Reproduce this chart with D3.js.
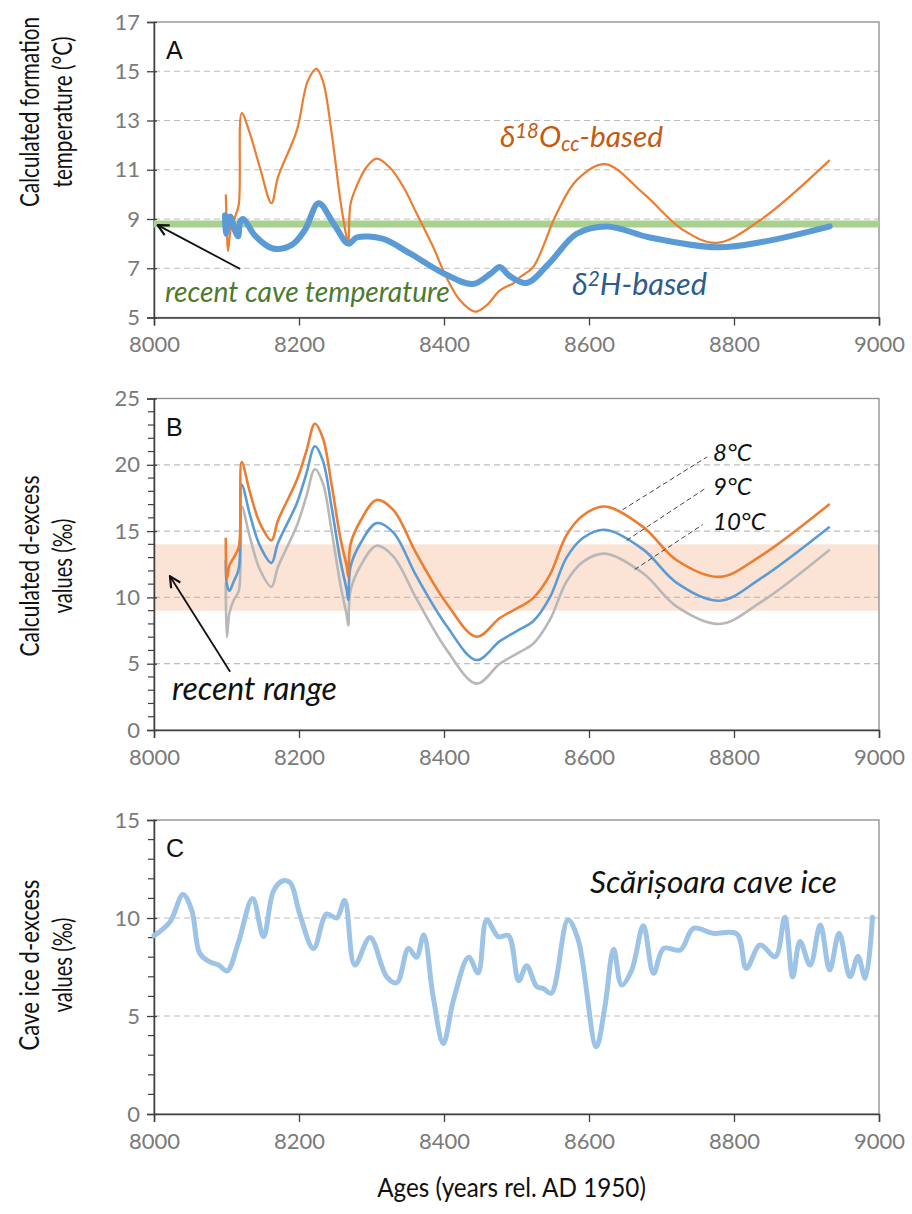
<!DOCTYPE html>
<html><head><meta charset="utf-8">
<script src="https://cdn.jsdelivr.net/npm/d3@7"></script>
<style>body{margin:0;background:#fff}</style></head>
<body>
<svg id="chart" width="912" height="1214"></svg>
<script>
// ---------- data ----------
const ageTicks = [8000, 8200, 8400, 8600, 8800, 9000];
const tempTicks = [5, 7, 9, 11, 13, 15, 17];
const dexTicks = [0, 5, 10, 15, 20, 25];
const iceTicks = [0, 5, 10, 15];
const recentCaveTemp = 8.8;
const recentRange = [9, 14];

// Panel A: delta18O-based temperature
const d18OAge  = [8099,8100.5,8102,8106,8112,8117,8121,8132,8146,8162,8171,8197,8212,8224,8233,8245,8257,8266,8268,8271,8279,8293,8307,8325,8344,8362,8385,8403,8422,8443,8459,8477,8496,8505,8523,8555,8583,8622,8675,8730,8776,8836,8932];
const d18OTemp = [10.0,8.6,7.7,8.6,9.1,9.6,13.3,12.5,11.1,9.64,10.7,12.6,14.6,15.1,14.6,12.5,9.77,8.2,7.95,9.6,10.3,11.1,11.45,11.1,10.3,9.24,7.87,6.65,5.7,5.24,5.5,6.1,6.4,6.64,7.05,9.2,10.58,11.23,10.04,8.55,8.03,8.95,11.39];
// Panel A: delta2H-based temperature
const d2HAge  = [8098,8099,8105,8112,8116,8119,8123,8140,8164,8190,8208,8227,8248,8268,8280,8315,8353,8399,8440,8465,8477,8490,8514,8545,8583,8625,8684,8777,8845,8932];
const d2HTemp = [9.15,8.4,9.1,8.5,8.3,8.9,9.0,8.3,7.8,7.95,8.55,9.64,8.8,8.0,8.25,8.2,7.6,6.8,6.36,6.8,7.05,6.7,6.4,7.2,8.4,8.7,8.25,7.85,8.1,8.7];

// Panel B: calculated d-excess
const dexAge = [8099,8100.5,8104,8110,8117,8121,8132,8146,8162,8171,8197,8210,8222,8233,8245,8257,8266,8268,8271,8285,8307,8330,8362,8403,8445,8477,8505,8523,8546,8569,8592,8622,8675,8721,8780,8836,8932];
const dex8C  = [14.5,11.4,12.4,13.0,13.8,20.2,18.0,15.6,14.3,15.8,18.85,21.0,23.1,22.0,18.5,14.5,12.3,11.56,14.0,15.8,17.35,16.6,13.3,9.6,7.03,8.45,9.3,9.95,11.7,14.7,16.2,16.85,15.3,12.8,11.55,13.1,17.05];
const dex9C  = [12.8,11.0,10.5,11.2,12.2,18.5,16.3,13.9,12.6,14.1,17.1,19.3,21.4,20.3,16.8,12.8,10.5,9.8,12.3,14.1,15.6,14.9,11.6,7.9,5.28,6.7,7.6,8.2,10.0,13.0,14.5,15.1,13.6,11.1,9.75,11.4,15.33];
const dex10C = [11.1,7.0,8.8,9.8,10.5,16.85,14.6,12.1,10.8,12.3,15.4,17.6,19.66,18.6,15.0,11.0,8.6,7.9,10.5,12.4,13.9,13.1,9.9,6.1,3.5,5.0,5.9,6.5,8.3,11.2,12.7,13.3,11.8,9.3,8.0,9.6,13.6];

// Panel C: Scarisoara cave ice d-excess
const iceAge = [8000,8022,8040,8052,8063,8075,8089,8101,8116,8136,8151,8165,8178,8188,8201,8220,8238,8252,8263,8277,8298,8321,8335,8351,8362,8372,8385,8399,8413,8434,8447,8459,8475,8489,8503,8514,8528,8537,8548,8571,8585,8610,8622,8634,8645,8659,8675,8689,8703,8726,8744,8771,8804,8817,8836,8857,8870,8881,8891,8905,8919,8932,8945,8960,8971,8981,8991];
const iceDex = [9.1,9.8,11.2,10.4,8.2,7.8,7.6,7.3,8.7,11.0,9.05,11.4,11.9,11.8,10.2,8.45,10.2,10.0,10.9,7.6,9.0,7.0,6.7,8.45,8.0,9.13,6.0,3.6,5.8,8.0,7.2,9.9,9.05,9.1,6.8,7.57,6.5,6.4,6.16,9.9,8.9,3.43,5.5,8.4,6.58,7.35,9.6,7.18,8.45,8.37,9.47,9.22,9.18,7.43,8.62,8.03,10.04,7.0,8.8,7.6,9.64,7.35,9.22,7.0,8.03,6.92,10.04];

// ---------- layout ----------
const FF = "Lato, 'Open Sans', 'Liberation Sans', sans-serif";
const svg = d3.select("#chart");
const X0 = 154, X1 = 879;
const x = d3.scaleLinear().domain([8000, 9000]).range([X0, X1]);
const yA = d3.scaleLinear().domain([5, 17]).range([317.5, 22]);
const yB = d3.scaleLinear().domain([0, 25]).range([730, 398.5]);
const yC = d3.scaleLinear().domain([0, 15]).range([1114, 820]);

function fit(t, w) {
  const l = t.node().getComputedTextLength();
  const fs = parseFloat(t.attr("font-size"));
  t.attr("font-size", fs * w / l);
  return t;
}

function panel(y, ticks, grid, minorStep, letter, bg) {
  const g = svg.append("g");
  const [d0, d1] = y.domain();
  if (bg) bg(g);
  g.selectAll(".grid").data(grid).join("line")
    .attr("x1", X0).attr("x2", X1).attr("y1", d => y(d)).attr("y2", d => y(d))
    .attr("stroke", "#bdbdbd").attr("stroke-width", 1.2).attr("stroke-dasharray", "6,4");
  g.append("rect").attr("x", X0).attr("y", y(d1)).attr("width", X1 - X0).attr("height", y(d0) - y(d1))
    .attr("fill", "none").attr("stroke", "#8c8c8c").attr("stroke-width", 1.3);
  const ya = d3.axisLeft(y).tickValues(ticks).tickSize(7).tickPadding(7).tickFormat(d3.format("d"));
  const ag = g.append("g").attr("transform", `translate(${X0},0)`).call(ya);
  ag.select(".domain").attr("stroke", "#404040").attr("stroke-width", 1.5);
  ag.selectAll(".tick line").attr("stroke", "#404040").attr("stroke-width", 1.3).attr("x2", -7).attr("x1", 3);
  ag.selectAll("text").attr("font-family", FF).attr("font-size", 22).attr("fill", "#7a7a7a");
  if (minorStep) {
    const minor = d3.range(d0, d1 + 0.001, minorStep).filter(v => !ticks.includes(v));
    g.selectAll(".minor").data(minor).join("line")
      .attr("x1", X0 - 6).attr("x2", X0).attr("y1", d => y(d)).attr("y2", d => y(d))
      .attr("stroke", "#404040").attr("stroke-width", 1.2);
  }
  const xa = d3.axisBottom(x).tickValues(ageTicks).tickSize(8).tickPadding(11).tickFormat(d3.format("d"));
  const bgx = g.append("g").attr("transform", `translate(0,${y(d0)})`).call(xa);
  bgx.select(".domain").attr("stroke", "#404040").attr("stroke-width", 1.5);
  bgx.selectAll(".tick line").attr("stroke", "#404040").attr("stroke-width", 1.3);
  bgx.selectAll("text").attr("font-family", FF).attr("font-size", 22).attr("fill", "#7a7a7a");
  g.append("text").attr("x", 166).attr("y", y(d1) + 37).text(letter)
    .attr("font-family", "'Liberation Sans', Arial, sans-serif").attr("font-size", 25).attr("fill", "#111");
  return g;
}

const curve = d3.curveCatmullRom.alpha(0.5);
const line = (y) => d3.line().x(d => x(d[0])).y(d => y(d[1])).curve(curve);
const zip = (a, b) => a.map((v, i) => [v, b[i]]);

svg.append("defs").append("marker").attr("id", "arr").attr("viewBox", "0 0 12 12")
  .attr("refX", 11).attr("refY", 6).attr("markerWidth", 13).attr("markerHeight", 13)
  .attr("markerUnits", "userSpaceOnUse").attr("orient", "auto")
  .append("path").attr("d", "M1,1 L11,6 L1,11").attr("fill", "none").attr("stroke", "#111").attr("stroke-width", 2);

// ---------- Panel A ----------
const gA = panel(yA, tempTicks, [7, 9, 11, 13, 15], null, "A");
gA.append("line").attr("x1", X0).attr("x2", X1).attr("y1", yA(recentCaveTemp)).attr("y2", yA(recentCaveTemp))
  .attr("stroke", "#a9d18e").attr("stroke-width", 7);
gA.append("path").attr("d", line(yA)(zip(d18OAge, d18OTemp))).attr("fill", "none")
  .attr("stroke", "#ed7d31").attr("stroke-width", 2.2);
gA.append("path").attr("d", line(yA)(zip(d2HAge, d2HTemp))).attr("fill", "none")
  .attr("stroke", "#5b9bd5").attr("stroke-width", 6).attr("stroke-linejoin", "round").attr("stroke-linecap", "round");
gA.append("line").attr("x1", x(8119)).attr("y1", yA(6.97)).attr("x2", x(8005)).attr("y2", yA(8.75))
  .attr("stroke", "#111").attr("stroke-width", 1.8).attr("marker-end", "url(#arr)");
fit(gA.append("text").attr("x", x(8015)).attr("y", 302).text("recent cave temperature")
  .attr("font-family", FF).attr("font-style", "italic").attr("font-size", 24).attr("fill", "#4e7a2e"), 285);
const t18 = gA.append("text").attr("x", 500).attr("y", 147).attr("font-family", FF).attr("font-style", "italic")
  .attr("font-size", 27).attr("fill", "#c55a11");
t18.append("tspan").text("δ");
t18.append("tspan").attr("dy", "-0.42em").attr("font-size", "0.68em").text("18");
t18.append("tspan").attr("dy", "0.285em").text("O");
t18.append("tspan").attr("dy", "0.2em").attr("font-size", "0.68em").text("cc");
t18.append("tspan").attr("dy", "-0.136em").text("-based");
fit(t18, 163);
const t2 = gA.append("text").attr("x", 572).attr("y", 295).attr("font-family", FF).attr("font-style", "italic")
  .attr("font-size", 27).attr("fill", "#2e5c8c");
t2.append("tspan").text("δ");
t2.append("tspan").attr("dy", "-0.42em").attr("font-size", "0.68em").text("2");
t2.append("tspan").attr("dy", "0.285em").text("H-based");
fit(t2, 135);

// ---------- Panel B ----------
const gB = panel(yB, dexTicks, [5, 10, 15, 20], 1, "B", g => {
  g.append("rect").attr("x", X0).attr("width", X1 - X0).attr("y", yB(recentRange[1]))
    .attr("height", yB(recentRange[0]) - yB(recentRange[1])).attr("fill", "#fbe3d5");
});
gB.append("path").attr("d", line(yB)(zip(dexAge, dex10C))).attr("fill", "none").attr("stroke", "#b8b8b8").attr("stroke-width", 2.6);
gB.append("path").attr("d", line(yB)(zip(dexAge, dex9C))).attr("fill", "none").attr("stroke", "#5b9bd5").attr("stroke-width", 2.6);
gB.append("path").attr("d", line(yB)(zip(dexAge, dex8C))).attr("fill", "none").attr("stroke", "#ed7d31").attr("stroke-width", 2.6);
const leaders = [
  {t: "8°C",  a: [8646, 16.6], b: [8763, 20.6], lab: [8771, 20.3]},
  {t: "9°C",  a: [8652, 14.3], b: [8760, 18.2], lab: [8771, 17.7]},
  {t: "10°C", a: [8663, 12.1], b: [8757, 15.5], lab: [8771, 15.1]}
];
leaders.forEach(d => {
  gB.append("line").attr("x1", x(d.a[0])).attr("y1", yB(d.a[1])).attr("x2", x(d.b[0])).attr("y2", yB(d.b[1]))
    .attr("stroke", "#444").attr("stroke-width", 1).attr("stroke-dasharray", "5,3");
  gB.append("text").attr("x", x(d.lab[0])).attr("y", yB(d.lab[1])).text(d.t)
    .attr("font-family", FF).attr("font-style", "italic").attr("font-size", 24).attr("fill", "#111");
});
gB.append("line").attr("x1", x(8105)).attr("y1", yB(4.4)).attr("x2", x(8022)).attr("y2", yB(11.6))
  .attr("stroke", "#111").attr("stroke-width", 1.8).attr("marker-end", "url(#arr)");
fit(gB.append("text").attr("x", 172).attr("y", 700).text("recent range")
  .attr("font-family", FF).attr("font-style", "italic").attr("font-size", 24).attr("fill", "#111"), 165);

// ---------- Panel C ----------
const gC = panel(yC, iceTicks, [5, 10], 1, "C");
gC.append("path").attr("d", line(yC)(zip(iceAge, iceDex))).attr("fill", "none")
  .attr("stroke", "#9dc3e6").attr("stroke-width", 5).attr("stroke-linejoin", "round").attr("stroke-linecap", "round");
fit(gC.append("text").attr("x", 590).attr("y", 893).text("Scărișoara cave ice")
  .attr("font-family", FF).attr("font-style", "italic").attr("font-size", 24).attr("fill", "#111"), 247);

// ---------- axis titles (condensed, Calibri-like) ----------
const TFS = 26;
function title(s, tx, ty, rot, w) {
  const t = svg.append("text").attr("text-anchor", "middle").attr("font-family", FF)
    .attr("font-size", TFS).attr("fill", "#111").text(s);
  const sx = w / t.node().getComputedTextLength();
  t.attr("transform", `translate(${tx},${ty}) rotate(${rot}) scale(${sx},1)`);
  return t;
}
title("Calculated formation", 39, 112, -90, 190);
title("temperature (°C)", 72, 112, -90, 151);
title("Calculated d-excess", 39, 566, -90, 181);
title("values (‰)", 72, 566, -90, 95);
title("Cave ice d-excess", 39, 965, -90, 171);
title("values (‰)", 72, 965, -90, 95);
title("Ages (years rel. AD 1950)", (X0 + X1) / 2 - 5, 1197, 0, 269);
</script>
</body></html>
